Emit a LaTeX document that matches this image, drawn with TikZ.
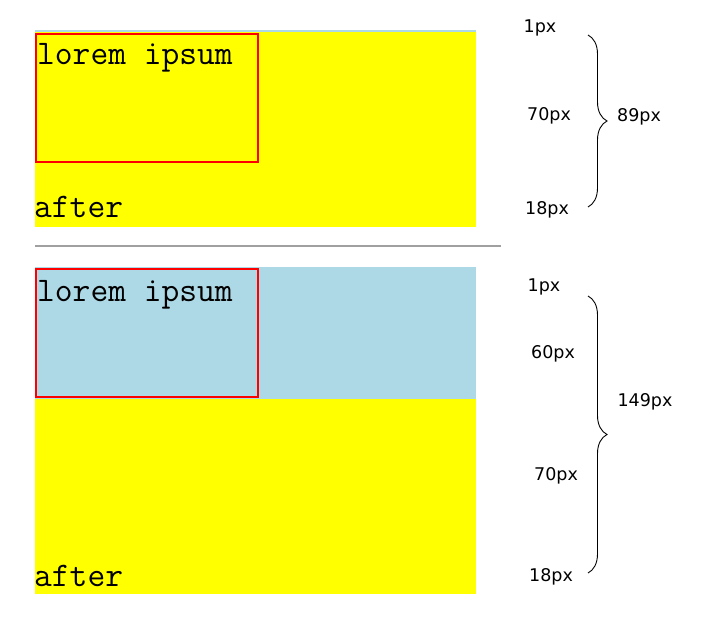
\documentclass[tikz,border=0pt]{standalone}
\usepackage{fontspec}
\setmainfont{DejaVu Sans}
\usepackage{tikz}
\usetikzlibrary{decorations.pathreplacing}

\definecolor{boxblue}{HTML}{ADD8E6}
\definecolor{boxyellow}{HTML}{FFFF00}
\definecolor{rulegray}{HTML}{A0A0A0}

\begin{document}
\begin{tikzpicture}
  [
    x = 1pt, y = -1pt,
    every node/.style = {inner sep = 0pt},
    mono/.style = {anchor = base west, font = \fontsize{34.5}{38}\selectfont\ttfamily},
    px/.style = {font = \fontsize{17.5}{20}\selectfont},
    inner box/.style = {draw = red, line width = 2pt},
    curly/.style = {decorate, decoration = {brace, amplitude = 19pt}, line width = 0.9pt}
  ]
  \useasboundingbox (0,0) rectangle (702,623);
  % first block
  \fill[boxblue] (35,30) rectangle (476,32);
  \fill[boxyellow] (35,32) rectangle (476,227);
  \draw[inner box] (36,34) rectangle (258,162);
  \node[mono] (LoremA) at (37,65) {lorem ipsum};
  \node[mono] (AfterA) at (34,218) {after};
  \node[px] (OneA)      at (540,28)  {1px};
  \node[px] (SeventyA)  at (549,116) {70px};
  \node[px] (EighteenA) at (547,210) {18px};
  \coordinate (BraceA1) at (588,35);
  \coordinate (BraceA2) at (588,207);
  \draw[curly] (BraceA1) -- (BraceA2);
  \node[px] (SumA) at (639,117) {89px};
  % separator
  \draw[rulegray, line width = 2pt] (35,246) -- (501,246);
  % second block
  \fill[boxblue] (35,267) rectangle (476,399);
  \fill[boxyellow] (35,399) rectangle (476,594);
  \draw[inner box] (36,269) rectangle (258,397);
  \node[mono] (LoremB) at (37,301) {lorem ipsum};
  \node[mono] (AfterB) at (34,586) {after};
  \node[px] (OneB)      at (544,287) {1px};
  \node[px] (SixtyB)    at (553,354) {60px};
  \node[px] (SeventyB)  at (556,476) {70px};
  \node[px] (EighteenB) at (551,577) {18px};
  \coordinate (BraceB1) at (588,296);
  \coordinate (BraceB2) at (588,573);
  \draw[curly] (BraceB1) -- (BraceB2);
  \node[px] (SumB) at (645,402) {149px};
\end{tikzpicture}
\end{document}
